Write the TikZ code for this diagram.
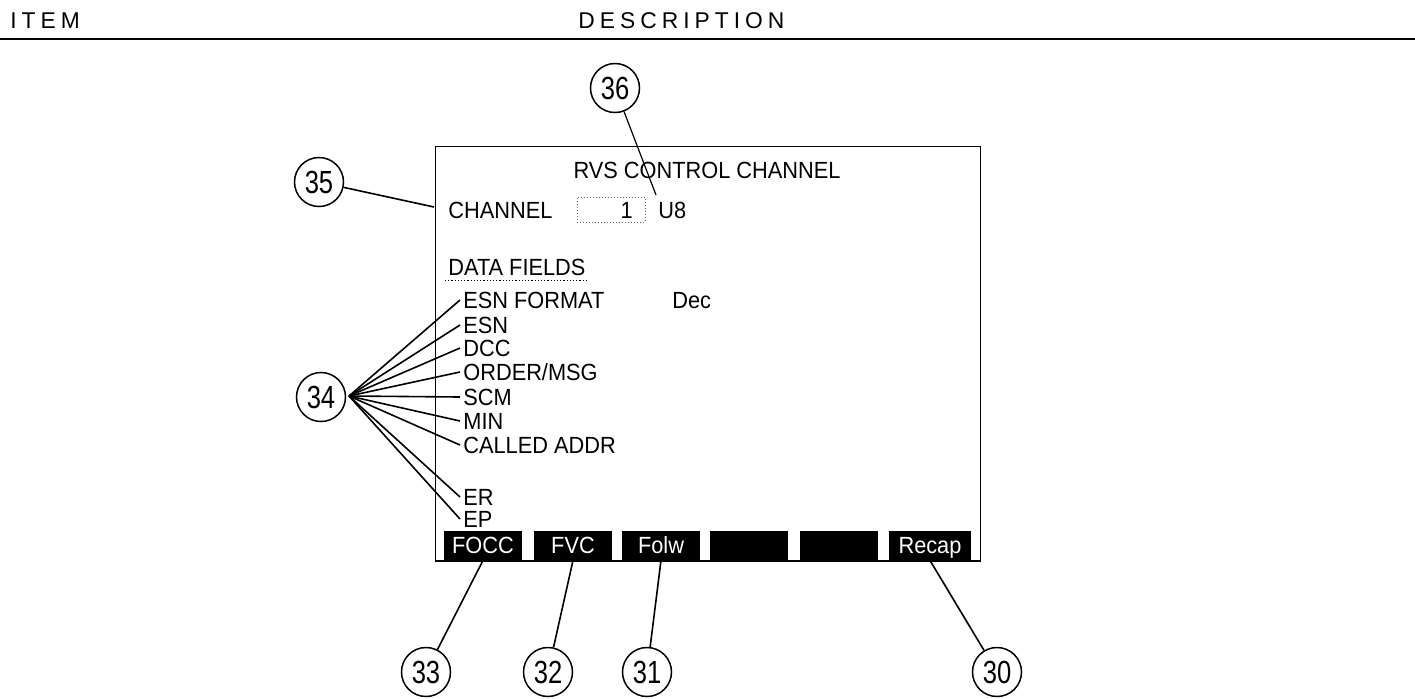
\documentclass[tikz,border=0pt]{standalone}
\usepackage{fontspec}
\setmainfont{Liberation Sans}
\newfontfamily\scrfont[FakeStretch=0.93]{Liberation Sans}
\newfontfamily\numfont[FakeStretch=0.8]{Liberation Sans}
\newfontfamily\hdrfont[LetterSpace=22]{Liberation Sans}
\begin{document}
\begin{tikzpicture}[x=0.5pt,y=-0.5pt,
  hdr/.style={font=\hdrfont\fontsize{11.4}{12}\selectfont, inner sep=0pt, anchor=west, text height=8pt, text depth=0pt},
  scr/.style={font=\scrfont\fontsize{11.7}{12}\selectfont, inner sep=0pt, text height=8.4pt, text depth=0pt},
  lbl/.style={scr, anchor=west},
  num/.style={circle, draw, line width=0.75pt, minimum size=24.5pt, inner sep=0pt,
    font=\numfont\fontsize{16}{16}\selectfont},
  lead/.style={line width=0.8pt},
  softkey/.style={fill=black, minimum width=39pt, minimum height=14.5pt, inner sep=0pt,
    text=white, font=\scrfont\fontsize{11.7}{12}\selectfont, text height=8.4pt, text depth=0pt}
]
\fill[white] (0,0) rectangle (1415,698);
\useasboundingbox (0,0) rectangle (1415,698);

% header
\node[hdr] (item) at (10,20) {ITEM};
\node[hdr] (desc) at (578,20) {DESCRIPTION};
\draw[line width=0.75pt] (0,39) -- (1415,39);

% screen
\draw[line width=0.5pt] (435,146) rectangle (980,561);
\draw[line width=0.8pt] (435,561) -- (980,561);

\node[scr] (title) at (707,170) {RVS CONTROL CHANNEL};
\node[lbl] (chan) at (448,210) {CHANNEL};
\node[draw=black!60, densely dotted, line width=0.5pt, minimum width=34pt, minimum height=12.5pt, inner sep=0pt] (fld) at (611,209.5) {};
\node[scr, anchor=east] (one) at (633,210) {1};
\node[lbl] (u8) at (658,210) {U8};

\node[lbl] (df) at (448,267) {DATA FIELDS};
\draw[densely dotted, line width=0.6pt] ([xshift=-1.5pt,yshift=-2.4pt]df.south west) -- ([xshift=1pt,yshift=-2.4pt]df.south east);

\node[lbl] (esnf) at (463,300) {ESN FORMAT};
\node[lbl] (dec)  at (672,300) {Dec};
\node[lbl] (esn)  at (463,325) {ESN};
\node[lbl] (dcc)  at (463,348) {DCC};
\node[lbl] (ord)  at (463,372) {ORDER/MSG};
\node[lbl] (scm)  at (463,397) {SCM};
\node[lbl] (min)  at (463,421) {MIN};
\node[lbl] (cal)  at (463,445) {CALLED ADDR};
\node[lbl] (er)   at (463,497) {ER};
\node[lbl] (ep)   at (463,519) {EP};

% softkeys
\node[softkey] (focc) at (483,545.5) {FOCC};
\node[softkey] (fvc)  at (573,545.5) {FVC};
\node[softkey] (folw) at (661,545.5) {Folw};
\node[softkey] (bk4)  at (749,545.5) {};
\node[softkey] (bk5)  at (838.5,545.5) {};
\node[softkey, minimum width=41pt] (recap) at (930,545.5) {Recap};

% callout circles
\node[num] (n36) at (615,88) {36};
\node[num] (n35) at (319,182) {35};
\node[num] (n34) at (321,397) {34};
\node[num] (n33) at (426,672) {33};
\node[num] (n32) at (548,672) {32};
\node[num] (n31) at (647,672) {31};
\node[num] (n30) at (997,672) {30};

% leaders
\coordinate (e36) at (656,195);
\coordinate (e35) at (434,207);
\coordinate (hub) at (349,396);
\draw[line width=0.6pt] (n36) -- (e36);
\draw[lead] (n35) -- (e35);
\foreach \t in {esnf,esn,dcc,ord,scm,min,cal,er,ep}
  \draw[lead] (hub) -- ([xshift=-1.5pt]\t.west);
\draw[lead] (n33) -- (focc.south);
\draw[lead] (n32) -- (fvc.south);
\draw[lead] (n31) -- (folw.south);
\draw[lead] (n30) -- (recap.south);
\end{tikzpicture}
\end{document}
